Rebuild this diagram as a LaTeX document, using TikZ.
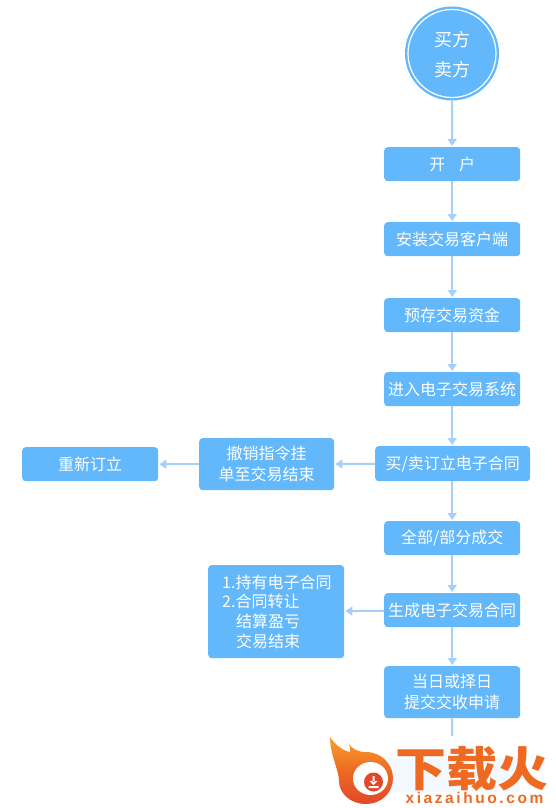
\documentclass[tikz,border=0pt]{standalone}
\usepackage{fontspec}
\setmainfont{Noto Sans CJK SC}
\newfontfamily\latinf{Liberation Sans}
\usetikzlibrary{arrows.meta,positioning,calc}
\definecolor{boxblue}{HTML}{62B8FB}
\definecolor{linkblue}{HTML}{A6CFFB}
\definecolor{logoorange}{HTML}{EE6A22}
\definecolor{logored}{HTML}{E2472A}
\definecolor{logoyellow}{HTML}{F9A02F}
\tikzset{
  x=1pt,y=-1pt,
  flowbox/.style={fill=boxblue,rounded corners=3.5pt,inner sep=0pt,text=white,font=\fontsize{16}{21}\selectfont,align=center,anchor=north west},
  link/.style={draw=linkblue,line width=2pt,shorten >=1pt,-{Triangle[length=7pt,width=9pt]}},
}
\newcommand{\flowbox}[6]{\node[flowbox,minimum width=#4pt,minimum height=#5pt] (#1) at (#2,#3) {#6};}
\begin{document}
\begin{tikzpicture}
\useasboundingbox (0,0) rectangle (555,808);
\fill[white] (0,0) rectangle (555,808);
% start circle
\node[circle,fill=boxblue,minimum size=94pt,inner sep=0pt] (start) at (452,53.5) {};
\draw[white,line width=1.2pt] (452,53.5) circle (44pt);
\node[text=white,font=\fontsize{18}{30}\selectfont,align=center] (startt) at (452,55) {买方\\卖方};
% boxes
\flowbox{kh}{384}{147}{136}{34}{开\hspace{0.85em}户}
\flowbox{az}{384}{222}{136}{34}{安装交易客户端}
\flowbox{yc}{384}{298}{136}{34}{预存交易资金}
\flowbox{jr}{384}{372}{136}{34}{进入电子交易系统}
\flowbox{mm}{375}{446}{155}{35}{买/卖订立电子合同}
\flowbox{qb}{384}{521}{136}{34}{全部/部分成交}
\flowbox{sc}{384}{593}{136}{34}{生成电子交易合同}
\flowbox{dr}{384}{666}{136}{52}{当日或择日\\提交交收申请}
\flowbox{cx}{199}{438}{135}{52}{撤销指令挂\\单至交易结束}
\flowbox{cx2}{22}{447}{136}{34}{重新订立}
\flowbox{cy}{208}{565}{136}{93}{}
\node[text=white,font=\fontsize{16}{19.7}\selectfont,align=left,anchor=west,inner sep=0pt] (cyt) at (222,611.5)
  {1.持有电子合同\\2.合同转让\\\hspace*{14pt}结算盈亏\\\hspace*{14pt}交易结束};
% connectors
\draw[link] (start) -- (kh);
\draw[link] (kh) -- (az);
\draw[link] (az) -- (yc);
\draw[link] (yc) -- (jr);
\draw[link] (jr) -- (jr|-mm.north);
\draw[link] (jr.south|-mm.south) -- (jr.south|-qb.north);
\draw[link] (qb) -- (sc);
\draw[link] (sc) -- (dr);
\draw[link] (mm) -- (cx);
\draw[link] (cx) -- (cx2);
\draw[link] (sc) -- (cy);
\coordinate (drend) at (452,736);
\draw[linkblue,line width=2pt] (dr) -- (drend);
% faint box behind the watermark
\fill[boxblue!8,rounded corners=3.5pt] (384,758) rectangle (520,792);
% watermark logo
\shade[top color=logoyellow,bottom color=logored,middle color=logoorange]
  (330,737) .. controls (336,746) and (344,751) .. (350,752)
  .. controls (351,749) and (350,746) .. (348,743)
  .. controls (352,749) and (358,752) .. (366,752)
  .. controls (382,752) and (393,765) .. (393,778)
  .. controls (393,793) and (381,804) .. (366,804)
  .. controls (350,804) and (339,793) .. (339,781)
  .. controls (339,770) and (330,755) .. (330,737) -- cycle;
\fill[white] (370.5,778.5) ellipse (17.5pt and 16.5pt);
\fill[logored] (373.5,782) circle (9.5pt);
\fill[white] (372.5,776) rectangle (374.5,782) (369.5,781) -- (377.5,781) -- (373.5,785) -- cycle (368.5,786) rectangle (378.5,788);
\node[text=logoorange,font=\fontsize{51}{51}\selectfont\bfseries,anchor=center,inner sep=0pt,yscale=0.92] (logot) at (471.5,769) {下载火};
\node[text=logoorange,font=\latinf\fontsize{15.5}{16}\selectfont\bfseries,anchor=center,inner sep=0pt] (logou) at (474.5,798) {x\,i\,a\,z\,a\,i\,h\,u\,o\,.\,c\,o\,m};
\end{tikzpicture}
\end{document}
